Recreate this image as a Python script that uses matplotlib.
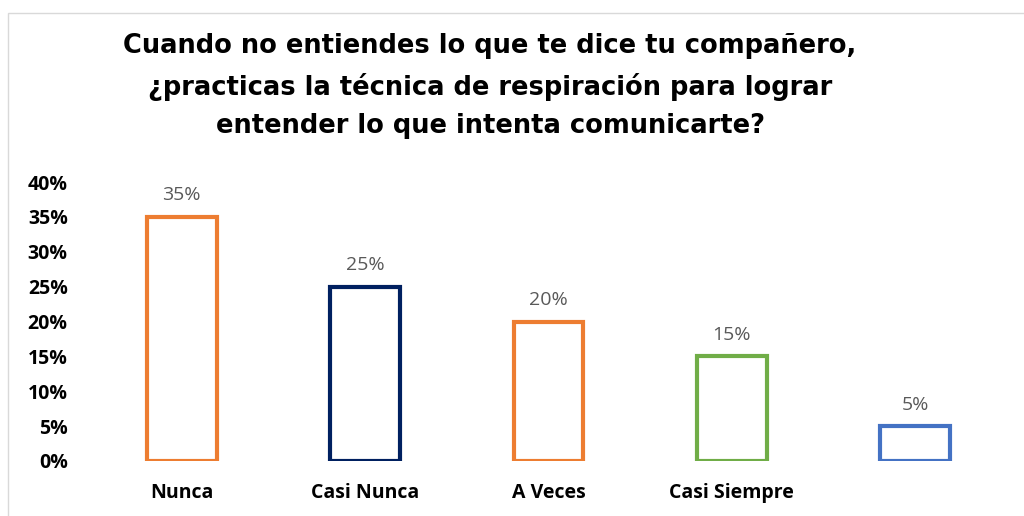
import matplotlib.pyplot as plt
import matplotlib.patches as patches

categories = ['Nunca', 'Casi Nunca', 'A Veces', 'Casi Siempre', '']
values = [0.35, 0.25, 0.20, 0.15, 0.05]
labels = ['35%', '25%', '20%', '15%', '5%']
colors = ['#ED7D31', '#002060', '#ED7D31', '#70AD47', '#4472C4']
yticks = [0, 0.05, 0.10, 0.15, 0.20, 0.25, 0.30, 0.35, 0.40]
ytick_labels = ['0%', '5%', '10%', '15%', '20%', '25%', '30%', '35%', '40%']

title = ('Cuando no entiendes lo que te dice tu compañero,\n'
         '¿practicas la técnica de respiración para lograr\n'
         'entender lo que intenta comunicarte?')

fig = plt.figure(figsize=(10.24, 5.16), dpi=100)
ax = fig.add_axes([90 / 1024, 1 - 461 / 516, 917 / 1024, 279 / 516])

x = range(len(categories))
ax.bar(x, values, width=0.38, facecolor='white', edgecolor=colors, linewidth=3)
for i, v in enumerate(values):
    ax.text(i, v + 0.018, labels[i], ha='center', va='bottom',
            fontsize=14, color='#595959', family='Open Sans')

ax.set_xlim(-0.5, len(categories) - 0.5)
ax.set_ylim(0, 0.40)
ax.set_yticks(yticks)
ax.set_yticklabels(ytick_labels, fontsize=14, fontweight='bold', family='Open Sans')
ax.set_xticks(list(x))
ax.set_xticklabels(categories, fontsize=14, fontweight='bold', family='Open Sans')
ax.tick_params(length=0)
ax.tick_params(axis='y', pad=16)
ax.tick_params(axis='x', pad=16)
for s in ax.spines.values():
    s.set_visible(False)

fig.text(490 / 1024, 1 - 86 / 516, title, ha='center', va='center',
         fontsize=18.5, fontweight='bold', family='DejaVu Sans', linespacing=1.6)

# chart frame (cut at right and bottom)
fig.patches.append(patches.Rectangle((8 / 1024, -0.1), 1.2, 1 - 13 / 516 + 0.1,
                                     transform=fig.transFigure, fill=False,
                                     edgecolor='#D9D9D9', linewidth=1))

fig.savefig('out.png', dpi=100)
